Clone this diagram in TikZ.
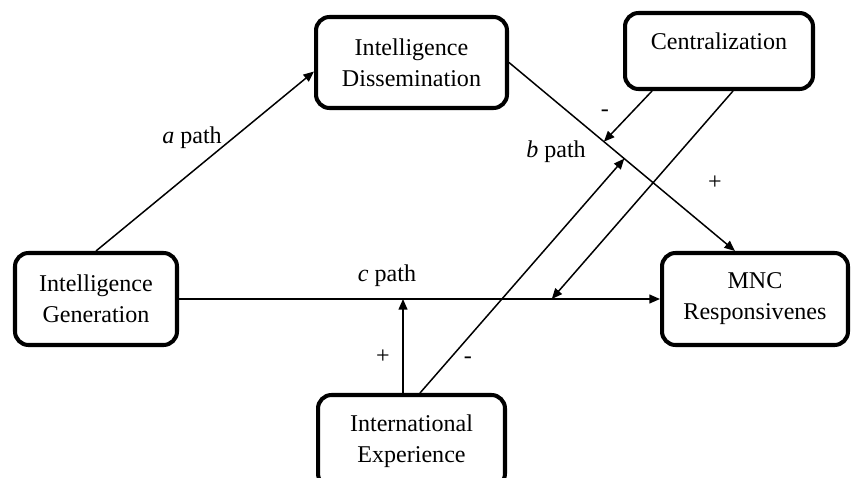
\documentclass[tikz,border=0pt]{standalone}
\usepackage{fontspec}
\setmainfont{Liberation Serif}
\usetikzlibrary{arrows.meta, positioning, calc}
\tikzstyle{arrow} = [line width=0.85pt,-{Triangle[length=6pt,width=5pt]}]
\tikzstyle{line} = [line width=0.85pt]
\tikzstyle{basic} = [rectangle, rounded corners=0.27cm, minimum height=1.84cm, align=center, inner sep=0pt, draw=black, line width=2.3pt, fill=white, text=black, font=\fontsize{13.7}{17.6}\selectfont]
\tikzstyle{lbl} = [inner sep=0pt, font=\fontsize{13.7}{17.6}\selectfont]

\begin{document}
\begin{tikzpicture}[x=0.02cm, y=-0.02cm]
\useasboundingbox (0,0) rectangle (852,477);

\node (gen) [basic, minimum width=3.24cm] at (96,299) {Intelligence\\Generation};
\node (diss) [basic, minimum width=3.82cm, minimum height=1.82cm] at (411.5,62.5) {Intelligence\\Dissemination};
\node (cent) [basic, minimum width=3.76cm, minimum height=1.52cm, text height=0.35cm, text depth=0.42cm] at (719,51) {Centralization};
\node (mnc) [basic, minimum width=3.72cm] at (755,299) {MNC\\Responsivenes};
\node (exper) [basic, minimum width=3.74cm] at (411.5,441) {International\\Experience};

% a, b and c paths
\draw [arrow] (gen.north) -- ($(diss.west)+(0,9)$);
\coordinate (bend) at ($(mnc.north)+(-20,0)$);
\draw [arrow] (diss.east) -- (bend);
\draw [arrow] (gen.east) -- (mnc.west);

% moderators
\coordinate (bneg) at ($(diss.east)!0.42!(bend)$);
\coordinate (bpos) at ($(diss.east)!0.51!(bend)$);
\coordinate (cneg) at ($(gen.east)!0.775!(mnc.west)$);
\coordinate (cpos) at ($(exper.north)+(-8.5,0)$);

\draw [arrow] ($(cent.south)+(-67,0)$) -- (bneg);
\draw [arrow] ($(cent.south)+(14,0)$) -- (cneg);
\draw [arrow] ($(exper.north)+(8.5,0)$) -- (bpos);
\draw [arrow] (cpos) -- (cpos |- gen.east);

\node (apath) [lbl] at (192,138) {\textit{a} path};
\node (bpath) [lbl] at (556,152) {\textit{b} path};
\node (cpath) [lbl] at (387,276) {\textit{c} path};
\node (centneg) [lbl] at (605,113) {-};
\node (centpos) [lbl] at (715,183) {+};
\node (experpos) [lbl] at (383,357) {+};
\node (experneg) [lbl] at (468,360) {-};

\end{tikzpicture}
\end{document}
